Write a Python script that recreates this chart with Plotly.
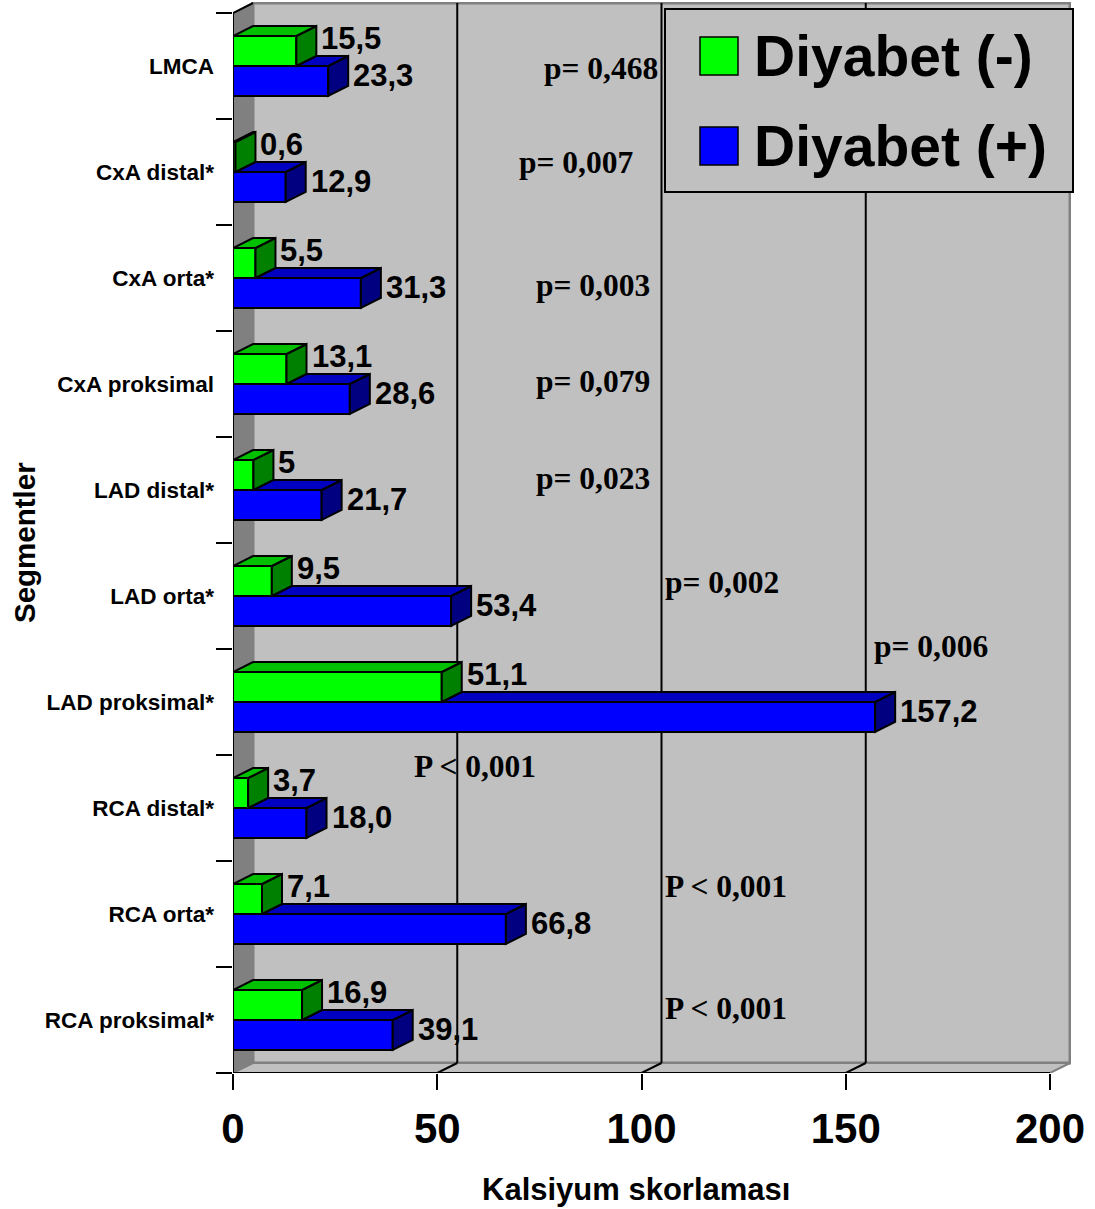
import plotly.graph_objects as go

# ---- data (bottom to top) ----
segments = ["RCA proksimal*", "RCA orta*", "RCA distal*", "LAD proksimal*", "LAD orta*",
            "LAD distal*", "CxA proksimal", "CxA orta*", "CxA distal*", "LMCA"]
diyabet_neg = [16.9, 7.1, 3.7, 51.1, 9.5, 5.0, 13.1, 5.5, 0.6, 15.5]
diyabet_pos = [39.1, 66.8, 18.0, 157.2, 53.4, 21.7, 28.6, 31.3, 12.9, 23.3]
neg_text = ["16,9", "7,1", "3,7", "51,1", "9,5", "5", "13,1", "5,5", "0,6", "15,5"]
pos_text = ["39,1", "66,8", "18,0", "157,2", "53,4", "21,7", "28,6", "31,3", "12,9", "23,3"]
p_values = ["P < 0,001", "P < 0,001", "P < 0,001", "p= 0,006", "p= 0,002",
            "p= 0,023", "p= 0,079", "p= 0,003", "p= 0,007", "p= 0,468"]
series_names = ["Diyabet (-)", "Diyabet (+)"]
x_ticks = [0, 50, 100, 150, 200]
x_title = "Kalsiyum skorlaması"
y_title = "Segmentler"

# ---- layout geometry ----
W, H = 1095, 1209
L, R, T, B = 233, 24, 2, 136
PW, PH = W - L - R, H - T - B
X_PER_UNIT = 4.085           # pixels per score unit
Y_PER_UNIT = 106.0           # pixels per category band
X_MAX = PW / X_PER_UNIT
Y_MIN = -0.5
Y_MAX = Y_MIN + PH / Y_PER_UNIT
DX = 20 / X_PER_UNIT         # 3-D depth along x (score units)
DY = 10 / Y_PER_UNIT         # 3-D depth along y (category units)
BAR_H = 30 / Y_PER_UNIT      # bar thickness
N = len(segments)
ypos = list(range(N))
XEND = x_ticks[-1]

SANS = "Liberation Sans"
SERIF = "Liberation Serif"
GREEN, GREEN_TOP, GREEN_SIDE = "#00FF00", "#00C000", "#008000"
BLUE, BLUE_TOP, BLUE_SIDE = "#0000FF", "#0000C0", "#000080"
WALL, WALL_DARK = "#C0C0C0", "#808080"


def paper_x(px):
    return (px - L) / PW


def paper_y(py):
    return (H - B - py) / PH


def poly(pts):
    return "M " + " L ".join(f"{x},{y}" for x, y in pts) + " Z"


fig = go.Figure()

# front faces of the bars
fig.add_trace(go.Bar(x=diyabet_pos, y=ypos, orientation="h", width=BAR_H, offset=-BAR_H,
                     marker=dict(color=BLUE, line=dict(color="black", width=2)),
                     name=series_names[1], showlegend=False, hoverinfo="x"))
fig.add_trace(go.Bar(x=diyabet_neg, y=ypos, orientation="h", width=BAR_H, offset=0,
                     marker=dict(color=GREEN, line=dict(color="black", width=2)),
                     name=series_names[0], showlegend=False, hoverinfo="x"))

shapes = []
top_y = N - 0.5
# back wall
shapes.append(dict(type="rect", xref="x", yref="y", x0=DX, x1=XEND + DX,
                   y0=Y_MIN + DY, y1=top_y + DY, fillcolor=WALL,
                   line=dict(color=WALL_DARK, width=3), layer="below"))
# floor
shapes.append(dict(type="path", xref="x", yref="y",
                   path=poly([(0, Y_MIN), (XEND, Y_MIN), (XEND + DX, Y_MIN + DY), (DX, Y_MIN + DY)]),
                   fillcolor=WALL, line=dict(color=WALL_DARK, width=2), layer="below"))
# side wall
shapes.append(dict(type="path", xref="x", yref="y",
                   path=poly([(0, Y_MIN), (DX, Y_MIN + DY), (DX, top_y + DY), (0, top_y)]),
                   fillcolor=WALL_DARK, line=dict(width=0), layer="below"))
shapes.append(dict(type="line", xref="x", yref="y", x0=0, y0=top_y, x1=DX, y1=top_y + DY,
                   line=dict(color="black", width=2), layer="below"))
# gridlines on floor and back wall
for t in x_ticks[1:-1]:
    shapes.append(dict(type="line", xref="x", yref="y", x0=t, y0=Y_MIN, x1=t + DX, y1=Y_MIN + DY,
                       line=dict(color="black", width=2), layer="below"))
    shapes.append(dict(type="line", xref="x", yref="y", x0=t + DX, y0=Y_MIN + DY, x1=t + DX,
                       y1=top_y + DY, line=dict(color="black", width=2), layer="below"))
# axis lines
shapes.append(dict(type="line", xref="x", yref="y", x0=0, y0=Y_MIN, x1=XEND, y1=Y_MIN,
                   line=dict(color="black", width=2), layer="above"))
shapes.append(dict(type="line", xref="x", yref="y", x0=0, y0=Y_MIN, x1=0, y1=top_y,
                   line=dict(color="black", width=2), layer="above"))

# top and side faces of the 3-D bars
edge = dict(color="black", width=2)
for c, vg, vb in zip(ypos, diyabet_neg, diyabet_pos):
    # blue bar: side face and the part of the top face not hidden by the green bar
    shapes.append(dict(type="path", xref="x", yref="y", layer="above", fillcolor=BLUE_SIDE, line=edge,
                       path=poly([(vb, c - BAR_H), (vb, c), (vb + DX, c + DY), (vb + DX, c - BAR_H + DY)])))
    shapes.append(dict(type="path", xref="x", yref="y", layer="above", fillcolor=BLUE_TOP, line=edge,
                       path=poly([(vg, c), (vb, c), (vb + DX, c + DY), (vg + DX, c + DY)])))
    # green bar
    shapes.append(dict(type="path", xref="x", yref="y", layer="above", fillcolor=GREEN_SIDE, line=edge,
                       path=poly([(vg, c), (vg, c + BAR_H), (vg + DX, c + BAR_H + DY), (vg + DX, c + DY)])))
    shapes.append(dict(type="path", xref="x", yref="y", layer="above", fillcolor=GREEN_TOP, line=edge,
                       path=poly([(0, c + BAR_H), (vg, c + BAR_H), (vg + DX, c + BAR_H + DY),
                                  (DX, c + BAR_H + DY)])))

# legend box
shapes.append(dict(type="rect", xref="paper", yref="paper", x0=paper_x(665), x1=paper_x(1073),
                   y0=paper_y(192), y1=paper_y(9), fillcolor=WALL,
                   line=dict(color="black", width=2), layer="above"))
legend_rows = [(series_names[0], GREEN, 56), (series_names[1], BLUE, 146)]
annotations = []
for name, col, cy in legend_rows:
    shapes.append(dict(type="rect", xref="paper", yref="paper", x0=paper_x(700), x1=paper_x(738),
                       y0=paper_y(cy + 19), y1=paper_y(cy - 19), fillcolor=col,
                       line=dict(color="black", width=1.5), layer="above"))
    annotations.append(dict(xref="paper", yref="paper", x=paper_x(752), y=paper_y(cy), text=name,
                            xanchor="left", yanchor="middle", showarrow=False,
                            font=dict(family=SANS, size=57, color="black", weight="bold")))

# value labels
val_font = dict(family=SANS, size=31, color="black", weight="bold")
for c, vg, vb, tg, tb in zip(ypos, diyabet_neg, diyabet_pos, neg_text, pos_text):
    annotations.append(dict(xref="x", yref="y", x=vg + DX, y=c + 0.26, text=tg, xshift=3,
                            xanchor="left", yanchor="middle", showarrow=False, font=val_font))
    annotations.append(dict(xref="x", yref="y", x=vb + DX, y=c - 0.085, text=tb, xshift=3,
                            xanchor="left", yanchor="middle", showarrow=False, font=val_font))

# p-value labels (left edge in score units, vertical centre in category units)
p_label_pos = [(105.3, 0.104), (105.3, 1.264), (43.7, 2.387), (156.5, 3.519), (105.3, 4.132),
               (73.6, 5.104), (73.6, 6.019), (73.6, 6.934), (69.5, 8.085), (75.6, 8.981)]
p_font = dict(family=SERIF, size=31.5, color="black", weight="bold")
for txt, (px_, py_) in zip(p_values, p_label_pos):
    annotations.append(dict(xref="x", yref="y", x=px_, y=py_, text=txt, xanchor="left",
                            yanchor="middle", showarrow=False, font=p_font))

# axis titles
annotations.append(dict(xref="paper", yref="paper", x=paper_x(636), y=paper_y(1189), text=x_title,
                        showarrow=False, xanchor="center", yanchor="middle",
                        font=dict(family=SANS, size=31, color="black", weight="bold")))
annotations.append(dict(xref="paper", yref="paper", x=paper_x(24), y=paper_y(543), text=y_title,
                        textangle=-90, showarrow=False, xanchor="center", yanchor="middle",
                        font=dict(family=SANS, size=29.5, color="black", weight="bold")))

fig.update_layout(
    width=W, height=H,
    margin=dict(l=L, r=R, t=T, b=B, pad=0),
    paper_bgcolor="white", plot_bgcolor="white",
    barmode="overlay",
    showlegend=False,
    shapes=shapes,
    annotations=annotations,
    xaxis=dict(range=[0, X_MAX], tickmode="array", tickvals=x_ticks,
               ticktext=[str(t) for t in x_ticks], ticks="outside", ticklen=16, tickwidth=2,
               tickcolor="black", showgrid=False, zeroline=False, showline=False,
               ticklabelstandoff=3,
               tickfont=dict(family=SANS, size=42, color="black", weight="bold")),
    yaxis=dict(range=[Y_MIN, Y_MAX], tickmode="array", tickvals=ypos, ticktext=segments,
               ticks="", showgrid=False, zeroline=False, showline=False,
               ticklabelstandoff=18,
               tickfont=dict(family=SANS, size=22.5, color="black", weight="bold"),
               minor=dict(tickmode="array", tickvals=[k - 0.5 for k in range(N + 1)],
                          ticks="outside", ticklen=16, tickwidth=2, tickcolor="black",
                          showgrid=False)),
)

fig.write_html("out.html")
